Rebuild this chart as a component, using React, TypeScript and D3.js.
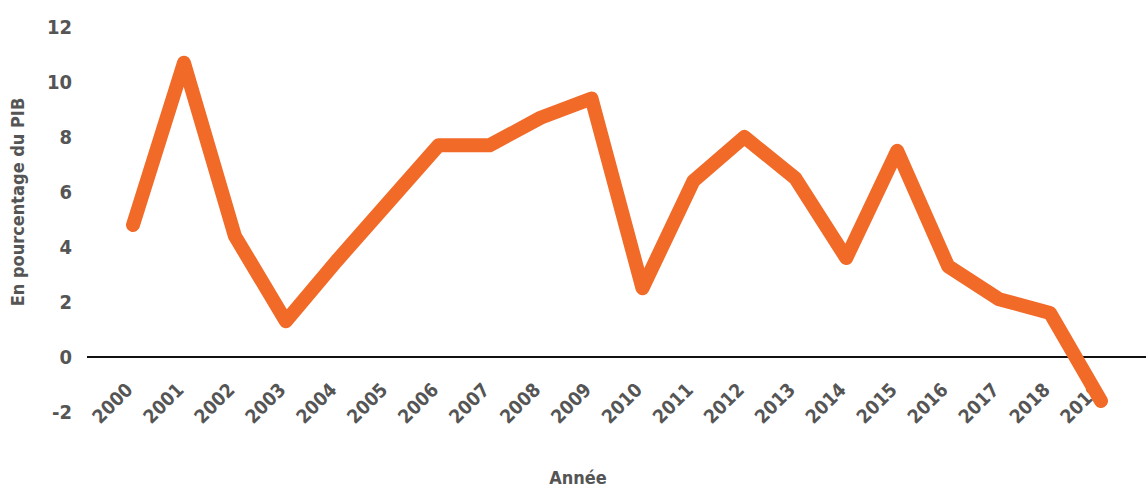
import React, { useEffect, useRef } from 'react';
import * as d3 from 'd3';

const years = ['2000', '2001', '2002', '2003', '2004', '2005', '2006', '2007', '2008', '2009',
  '2010', '2011', '2012', '2013', '2014', '2015', '2016', '2017', '2018', '2019'];
const values = [4.8, 10.7, 4.4, 1.3, 3.5, 5.6, 7.7, 7.7, 8.7, 9.4,
  2.5, 6.4, 8.0, 6.5, 3.6, 7.5, 3.3, 2.1, 1.6, -1.6];
const yTicks = [-2, 0, 2, 4, 6, 8, 10, 12];

const App = () => {
  const ref = useRef<SVGSVGElement>(null);

  useEffect(() => {
    document.body.style.margin = '0';
    drawChart();
  }, []);

  const drawChart = () => {
    const width = 1146;
    const height = 491;
    const font = '"DejaVu Sans Condensed", "Liberation Sans Narrow", Roboto, sans-serif';
    const gray = '#555555';

    const svg = d3.select(ref.current);
    svg.selectAll('*').remove();
    svg.attr('width', width).attr('height', height);

    // Scales
    const x = d3.scalePoint().domain(years).range([133, 1101]);
    const y = d3.scaleLinear().domain([-2, 12]).range([412, 27]);

    // Y tick labels
    svg.append('g')
      .selectAll('text')
      .data(yTicks)
      .enter()
      .append('text')
      .attr('x', 72)
      .attr('y', d => y(d))
      .attr('dy', '0.35em')
      .attr('text-anchor', 'end')
      .attr('font-family', font)
      .attr('font-weight', 'bold')
      .attr('font-size', 20)
      .attr('fill', gray)
      .text(d => d);

    // Zero line
    svg.append('line')
      .attr('x1', 87)
      .attr('x2', width)
      .attr('y1', y(0))
      .attr('y2', y(0))
      .attr('stroke', '#111')
      .attr('stroke-width', 2);

    // X tick labels (rotated)
    svg.append('g')
      .selectAll('text')
      .data(years)
      .enter()
      .append('text')
      .attr('transform', d => `translate(${x(d)! + 1},${y(0) + 34}) rotate(-45)`)
      .attr('text-anchor', 'end')
      .attr('font-family', font)
      .attr('font-weight', 'bold')
      .attr('font-size', 19)
      .attr('fill', gray)
      .text(d => d);

    // Line
    const line = d3.line<number>()
      .x((_, i) => x(years[i])!)
      .y(d => y(d));

    svg.append('path')
      .datum(values)
      .attr('d', line)
      .attr('fill', 'none')
      .attr('stroke', '#F26A27')
      .attr('stroke-width', 14)
      .attr('stroke-linecap', 'round')
      .attr('stroke-linejoin', 'round');

    // Axis titles
    svg.append('text')
      .attr('transform', 'translate(24,202) rotate(-90)')
      .attr('text-anchor', 'middle')
      .attr('font-family', font)
      .attr('font-weight', 'bold')
      .attr('font-size', 18)
      .attr('fill', gray)
      .text('En pourcentage du PIB');

    svg.append('text')
      .attr('x', 578)
      .attr('y', 484)
      .attr('text-anchor', 'middle')
      .attr('font-family', font)
      .attr('font-weight', 'bold')
      .attr('font-size', 18)
      .attr('fill', gray)
      .text('Année');
  };

  return <svg ref={ref} style={{ display: 'block' }}></svg>;
};

export default App;
